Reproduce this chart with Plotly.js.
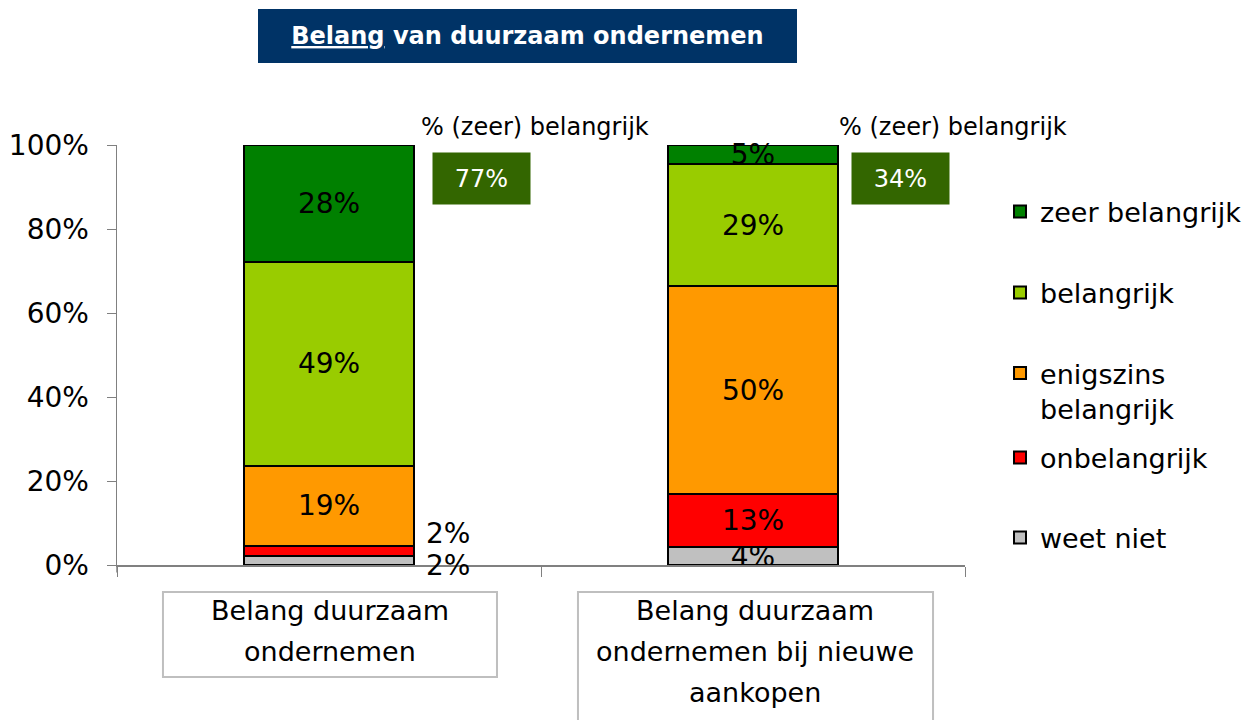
<!DOCTYPE html>
<html>
<head>
<meta charset="utf-8">
<script src="https://cdn.plot.ly/plotly-3.0.1.min.js"></script>
<style>html,body{margin:0;padding:0;background:#fff;}#chart{width:1249px;height:720px;}</style>
</head>
<body>
<div id="chart"></div>
<script>
// ---- data ----
var categories = ["Belang duurzaam<br>ondernemen", "Belang duurzaam<br>ondernemen bij nieuwe<br>aankopen"];
var seriesNames = ["weet niet", "onbelangrijk", "enigszins<br>belangrijk", "belangrijk", "zeer belangrijk"];
var weetNiet       = [2.1, 4.2];
var onbelangrijk   = [2.4, 12.6];
var enigszins      = [19.1, 49.6];
var belangrijk     = [48.6, 29.0];
var zeerBelangrijk = [27.8, 4.6];
var pctZeerBelangrijk = [77, 34];
var yTicks = [0, 20, 40, 60, 80, 100];
var titleText = "<u>Belang</u> van duurzaam ondernemen";
var boxLabel = "% (zeer) belangrijk";

var seriesValues = [weetNiet, onbelangrijk, enigszins, belangrijk, zeerBelangrijk];
var seriesColors = ["#c0c0c0", "#ff0000", "#ff9900", "#99cc00", "#008000"];
var FONT = "DejaVu Sans";

var traces = [];
var legendIds = ["legend5", "legend4", "legend3", "legend2", "legend"];
seriesValues.forEach(function (vals, si) {
  var texts = vals.map(function (v, ci) {
    if (ci === 0 && v < 3) return "";
    return Math.round(v) + "%";
  });
  traces.push({
    type: "bar",
    name: seriesNames[si],
    x: categories,
    y: vals,
    text: texts,
    textposition: "inside",
    insidetextanchor: "middle",
    textangle: 0,
    constraintext: "none",
    cliponaxis: false,
    insidetextfont: {family: FONT, size: 28, color: "#000"},
    marker: {color: seriesColors[si], line: {color: "#000", width: 2}},
    legend: legendIds[si],
    hoverinfo: "none"
  });
});

var annotations = [];
// small labels for first bar
var cumRed = weetNiet[0] + onbelangrijk[0];
annotations.push({xref: "x", yref: "y", x: 0, y: cumRed, xshift: 119, yshift: -6,
  yanchor: "bottom", xanchor: "center", showarrow: false,
  text: Math.round(onbelangrijk[0]) + "%", font: {family: FONT, size: 28, color: "#000"}});
annotations.push({xref: "x", yref: "y", x: 0, y: 0, xshift: 119, yshift: 0,
  yanchor: "middle", xanchor: "center", showarrow: false,
  text: Math.round(weetNiet[0]) + "%", font: {family: FONT, size: 28, color: "#000"}});

// title box
annotations.push({xref: "paper", yref: "paper", x: 0.484, y: 1.2595, xanchor: "center", yanchor: "middle",
  showarrow: false, text: "<b>" + titleText + "</b>", bgcolor: "#003366", width: 539, height: 54,
  borderpad: 0, borderwidth: 0, font: {family: FONT, size: 24, color: "#fff"}});

// % (zeer) belangrijk labels and boxes
var labelX = [0.3561, 0.8490];
var boxX = [0.4298, 0.9245];
pctZeerBelangrijk.forEach(function (p, i) {
  annotations.push({xref: "paper", yref: "paper", x: labelX[i], y: 1.0429, xanchor: "left", yanchor: "middle",
    showarrow: false, text: boxLabel, font: {family: FONT, size: 24, color: "#000"}});
  annotations.push({xref: "paper", yref: "paper", x: boxX[i], y: 0.9202, xanchor: "center", yanchor: "middle",
    showarrow: false, text: p + "%", bgcolor: "#336600", width: 97, height: 51, borderpad: 0,
    font: {family: FONT, size: 24, color: "#fff"}});
});

// category labels (each line separately)
categories.forEach(function (c, ci) {
  c.split("<br>").forEach(function (line, li) {
    annotations.push({xref: "x", yref: "paper", x: ci, xshift: ci === 0 ? 1 : 2,
      y: -0.1095 - li * 0.0976, xanchor: "center", yanchor: "middle", showarrow: false,
      text: line, font: {family: FONT, size: 27, color: "#000"}});
  });
});

var shapes = [
  {type: "rect", xref: "paper", yref: "paper", x0: 0.0542, x1: 0.4481, y0: -0.2667, y1: -0.0643,
    line: {color: "#bfbfbf", width: 2}, fillcolor: "rgba(0,0,0,0)", layer: "below"},
  {type: "rect", xref: "paper", yref: "paper", x0: 0.5436, x1: 0.9623, y0: -0.40, y1: -0.0643,
    line: {color: "#bfbfbf", width: 2}, fillcolor: "rgba(0,0,0,0)", layer: "below"},
  // y-axis line extension below 0
  {type: "line", xref: "paper", yref: "paper", x0: 0, x1: 0, y0: -0.018, y1: 0,
    line: {color: "#808080", width: 1.5}}
];

function leg(y, valign) {
  return {x: 1.0413, y: y, xanchor: "left", yanchor: "middle", bgcolor: "rgba(0,0,0,0)",
    font: {family: FONT, size: 27, color: "#000"}, valign: valign || "middle", itemclick: false, itemdoubleclick: false};
}

var layout = {
  width: 1249, height: 720,
  paper_bgcolor: "#fff", plot_bgcolor: "#fff",
  margin: {l: 117, r: 284, t: 145, b: 155, autoexpand: false},
  barmode: "stack",
  bargap: 0.6,
  showlegend: true,
  legend: leg((565 - 212) / 420),
  legend2: leg((565 - 293) / 420),
  legend3: leg((565 - 391) / 420, "top"),
  legend4: leg((565 - 458) / 420),
  legend5: leg((565 - 538) / 420),
  xaxis: {type: "category", range: [-0.5, 1.5], showticklabels: false, ticks: "outside", tickson: "boundaries",
    ticklen: 10, tickcolor: "#808080", showline: true, linecolor: "#808080", linewidth: 1.5,
    showgrid: false, zeroline: false, fixedrange: true},
  yaxis: {range: [0, 100], tickvals: yTicks, ticktext: yTicks.map(function (v) { return v + "%"; }),
    ticks: "outside", ticklen: 9, tickcolor: "#808080", showline: true, linecolor: "#808080", linewidth: 1.5,
    showgrid: false, zeroline: false, ticklabelstandoff: 12,
    tickfont: {family: FONT, size: 28, color: "#000"}, fixedrange: true},
  annotations: annotations,
  shapes: shapes,
  font: {family: FONT}
};

Plotly.newPlot("chart", traces, layout, {displayModeBar: false, staticPlot: true});
</script>
</body>
</html>
